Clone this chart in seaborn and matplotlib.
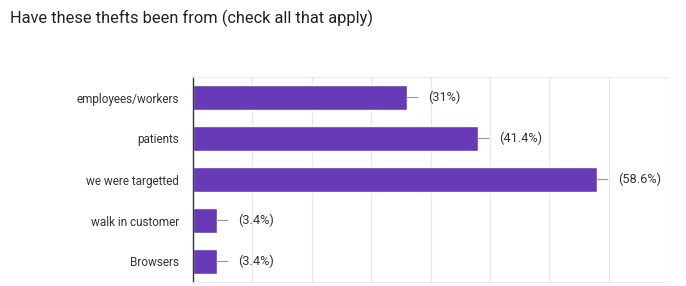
import matplotlib
matplotlib.use("Agg")
import matplotlib.pyplot as plt
import seaborn as sns
import pandas as pd

categories = ["employees/workers", "patients", "we were targetted", "walk in customer", "Browsers"]
counts = [9, 12, 17, 1, 1]
labels = ["(31%)", "(41.4%)", "(58.6%)", "(3.4%)", "(3.4%)"]

df = pd.DataFrame({"category": categories, "count": counts})

sns.set_theme(style="white")
plt.rcParams['font.family'] = ['Roboto', 'DejaVu Sans']

fig = plt.figure(figsize=(6.86, 2.86), dpi=100)
ax = fig.add_axes([193/686, 1-282/286, (668-193)/686, (282-77)/286])

sns.barplot(data=df, y="category", x="count", color="#673ab7", width=0.61,
            saturation=1, ax=ax, orient="h")

ax.set_xlim(0, 20)
ax.set_xticks([2.5 * i for i in range(9)])
ax.set_xticklabels([])
ax.grid(axis="x", color="#e8e8e8", linewidth=0.8)
ax.set_axisbelow(True)
ax.tick_params(axis="x", length=0)
ax.tick_params(axis="y", length=0, pad=10, labelsize=8.5, labelcolor="#333333")
ax.set_xlabel("")
ax.set_ylabel("")
ax.spines["right"].set_visible(False)
for s in ["top", "bottom"]:
    ax.spines[s].set_color("#ececec")
    ax.spines[s].set_linewidth(0.8)
ax.spines["left"].set_color("#333333")
ax.spines["left"].set_linewidth(1.0)

for i, (c, lab) in enumerate(zip(counts, labels)):
    ax.annotate("", xy=(c, i), xytext=(c + 0.47, i),
                arrowprops=dict(arrowstyle="-", color="#999999", lw=0.8,
                                shrinkA=0, shrinkB=0))
    ax.text(c + 0.88, i, lab, va="center", ha="left", fontsize=9.2, color="#333333")

fig.text(10/686, 1-18/286, "Have these thefts been from (check all that apply)",
         fontsize=11.8, color="#212121", va="center", ha="left")

fig.savefig("out.png", dpi=100, facecolor="white")
